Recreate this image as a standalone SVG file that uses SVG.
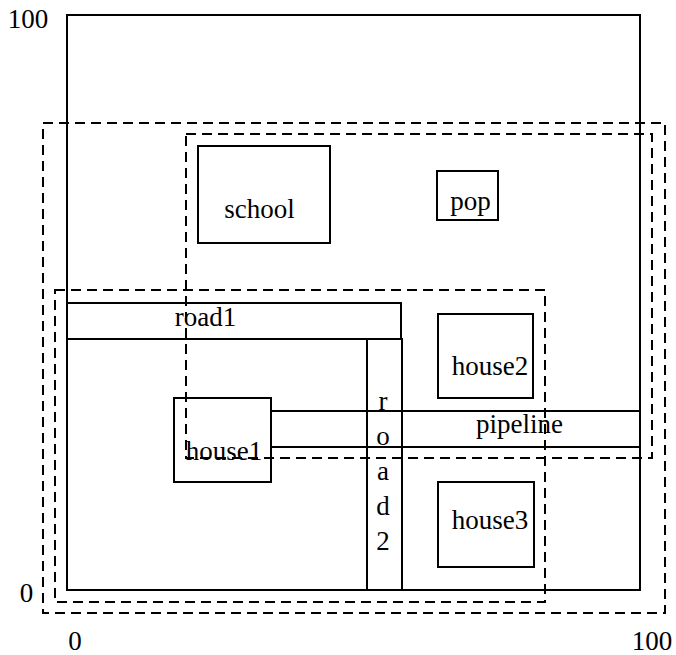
<svg xmlns="http://www.w3.org/2000/svg" width="676" height="655" viewBox="0 0 676 655">
<style>
.s{fill:none;stroke:#000;stroke-width:2}
.d{fill:none;stroke:#000;stroke-width:2;stroke-dasharray:10 6}
text{font-family:"Liberation Serif","Times New Roman",serif;font-size:27px;fill:#000;text-anchor:middle}
</style>
<rect width="676" height="655" fill="#fff"/>
<g id="area">
<rect class="s" x="67" y="15" width="573" height="575"/>
</g>
<g id="school"><rect class="s" x="198" y="146" width="132" height="97"/><text x="259.5" y="218">school</text></g>
<g id="pop"><rect class="s" x="437" y="171" width="61" height="49"/><text x="470.5" y="210">pop</text></g>
<g id="road1"><rect class="s" x="67" y="303" width="334" height="36"/><text x="205.5" y="326">road1</text></g>
<g id="road2"><rect class="s" x="367" y="339" width="35" height="251"/>
<text x="383" y="410">r</text><text x="383" y="445">o</text><text x="383" y="480">a</text><text x="383" y="515">d</text><text x="383" y="550">2</text></g>
<g id="house2"><rect class="s" x="438" y="314" width="95" height="84"/><text x="490" y="375">house2</text></g>
<g id="pipeline"><rect class="s" x="271" y="411" width="369" height="36"/><text x="519.5" y="433">pipeline</text></g>
<g id="house1"><rect class="s" x="174" y="398" width="97" height="84"/><text x="224" y="460">house1</text></g>
<g id="house3"><rect class="s" x="438" y="482" width="96" height="85"/><text x="490" y="529">house3</text></g>
<g id="regions">
<rect class="d" x="43" y="123" width="622" height="490"/>
<rect class="d" x="186" y="134" width="466" height="324"/>
<rect class="d" x="55" y="290" width="490" height="312"/>
</g>
<g id="connectors"></g>
<g id="axes">
<text x="28" y="28">100</text>
<text x="26.5" y="602">0</text>
<text x="75" y="650">0</text>
<text x="652" y="650">100</text>
</g>
</svg>
